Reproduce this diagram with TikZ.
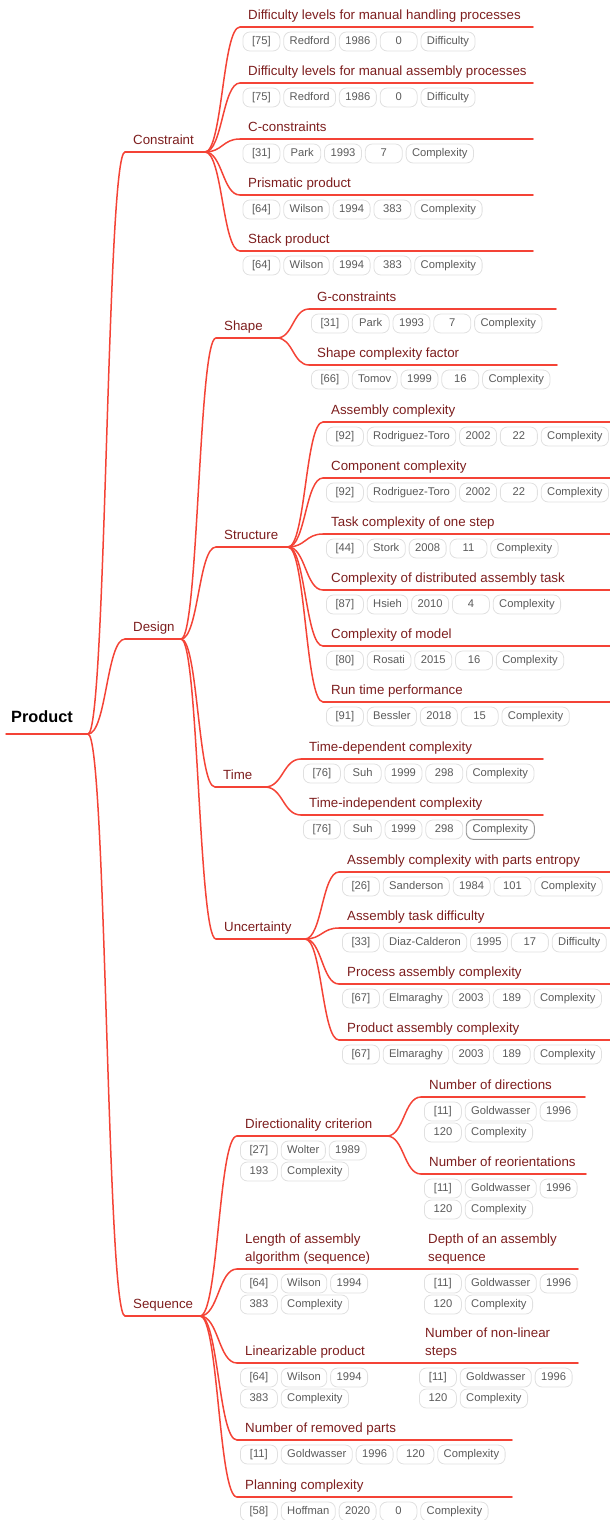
\documentclass[tikz,border=0pt]{standalone}
\usepackage{fontspec}
\setmainfont{Liberation Sans}
\usetikzlibrary{positioning,calc}

\definecolor{linkred}{RGB}{244,67,54}
\definecolor{topicred}{RGB}{125,30,30}
\definecolor{pillline}{RGB}{224,224,224}
\definecolor{pillhover}{RGB}{150,150,150}
\definecolor{pilltext}{RGB}{90,90,90}

\newcommand\rootfont{\fontsize{16.3}{20}\selectfont\bfseries}
\newcommand\topicfont{\fontsize{13.3}{18}\selectfont}
\newcommand\pillfont{\fontsize{11.2}{13}\selectfont}

% underline and label of a topic
\newcommand\topic[5]{%
  \coordinate (#1-s) at (#2,#4);
  \coordinate (#1-e) at (#3,#4);
  \draw[branch] (#1-s) -- (#1-e);
  \node[topic] (#1) at ({#2+8},{#4-7.7}) {#5};
}
% one row of reference pills
\newcommand\pills[4]{%
  \foreach \pl [count=\i] in {#4}{%
    \ifnum\i=1
      \node[pill,anchor=west] (#1-1) at (#2,#3) {\pl};
    \else
      \pgfmathtruncatemacro\j{\i-1}
      \node[pill,right=3pt of #1-\j] (#1-\i) {\pl};
    \fi
  }%
}
% curved connector between two topics
\newcommand\mmlink[2]{%
  \draw[branch] let \p1=(#1), \p2=(#2) in
    (\p1) .. controls ({(\x1+\x2)/2},\y1) and ({(\x1+\x2)/2},\y2) .. (\p2);
}
\newcommand\twolines[2]{\begin{tabular}[b]{@{}l@{}}#1\\#2\end{tabular}}

\begin{document}
\begin{tikzpicture}[x=1pt,y=-1pt,line cap=round]
    \tikzstyle{branch}=[draw=linkred,line width=1.5pt]
    \tikzstyle{topic}=[anchor=base west,inner sep=0,text=topicred,font=\topicfont]
    \tikzstyle{root}=[anchor=base west,inner sep=0,font=\rootfont]
    \tikzstyle{pill}=[draw=pillline,line width=0.8pt,rounded corners=7pt,minimum width=37pt,minimum height=19pt,
        inner xsep=6pt,inner ysep=0pt,text height=8pt,text depth=2.3pt,text=pilltext,font=\pillfont]
    \useasboundingbox (0,0) rectangle (610,1520);

    % root
    \coordinate (pr-s) at (6,734);
    \coordinate (pr-e) at (88,734);
    \draw[branch] (pr-s) -- (pr-e);
    \node[root] (pr) at (11,722) {Product};

    \topic{con}{125}{205}{152}{Constraint}
    \topic{des}{125}{181}{639}{Design}
    \topic{seq}{125}{200}{1316}{Sequence}
    \foreach \nm in {con,des,seq} {\mmlink{pr-e}{\nm-s}}

    % constraint
    \topic{c1}{240}{533}{27}{Difficulty levels for manual handling processes}
    \pills{c1r}{242.5}{41.5}{[75],Redford,1986,0,Difficulty}
    \topic{c2}{240}{533}{83}{Difficulty levels for manual assembly processes}
    \pills{c2r}{242.5}{97.5}{[75],Redford,1986,0,Difficulty}
    \topic{c3}{240}{533}{139}{C-constraints}
    \pills{c3r}{242.5}{153.5}{[31],Park,1993,7,Complexity}
    \topic{c4}{240}{533}{195}{Prismatic product}
    \pills{c4r}{242.5}{209.5}{[64],Wilson,1994,383,Complexity}
    \topic{c5}{240}{533}{251}{Stack product}
    \pills{c5r}{242.5}{265.5}{[64],Wilson,1994,383,Complexity}
    \foreach \k in {1,...,5} {\mmlink{con-e}{c\k-s}}

    % design
    \topic{shp}{216}{277}{338}{Shape}
    \topic{str}{216}{288}{547}{Structure}
    \topic{tim}{215}{265}{787}{Time}
    \topic{unc}{216}{305}{939}{Uncertainty}
    \foreach \nm in {shp,str,tim,unc} {\mmlink{des-e}{\nm-s}}

    \topic{g1}{309}{556}{309}{G-constraints}
    \pills{g1r}{311}{323.5}{[31],Park,1993,7,Complexity}
    \topic{g2}{309}{557}{365}{Shape complexity factor}
    \pills{g2r}{311}{379.5}{[66],Tomov,1999,16,Complexity}
    \mmlink{shp-e}{g1-s}
    \mmlink{shp-e}{g2-s}

    \topic{s1}{323}{612}{422}{Assembly complexity}
    \pills{s1r}{326}{436.5}{[92],Rodriguez-Toro,2002,22,Complexity}
    \topic{s2}{323}{612}{478}{Component complexity}
    \pills{s2r}{326}{492.5}{[92],Rodriguez-Toro,2002,22,Complexity}
    \topic{s3}{323}{612}{534}{Task complexity of one step}
    \pills{s3r}{326}{548.5}{[44],Stork,2008,11,Complexity}
    \topic{s4}{323}{612}{590}{Complexity of distributed assembly task}
    \pills{s4r}{326}{604.5}{[87],Hsieh,2010,4,Complexity}
    \topic{s5}{323}{612}{646}{Complexity of model}
    \pills{s5r}{326}{660.5}{[80],Rosati,2015,16,Complexity}
    \topic{s6}{323}{612}{702}{Run time performance}
    \pills{s6r}{326}{716.5}{[91],Bessler,2018,15,Complexity}
    \foreach \k in {1,...,6} {\mmlink{str-e}{s\k-s}}

    \topic{t1}{301}{543}{759}{Time-dependent complexity}
    \pills{t1r}{303}{773.5}{[76],Suh,1999,298,Complexity}
    \topic{t2}{301}{543}{815}{Time-independent complexity}
    \pills{t2r}{303}{829.5}{[76],Suh,1999,298,Complexity}
    \draw[draw=pillhover,line width=0.8pt,rounded corners=7pt] (t2r-5.south west) rectangle (t2r-5.north east);
    \mmlink{tim-e}{t1-s}
    \mmlink{tim-e}{t2-s}

    \topic{u1}{339}{612}{872}{Assembly complexity with parts entropy}
    \pills{u1r}{342}{886.5}{[26],Sanderson,1984,101,Complexity}
    \topic{u2}{339}{612}{928}{Assembly task difficulty}
    \pills{u2r}{342}{942.5}{[33],Diaz-Calderon,1995,17,Difficulty}
    \topic{u3}{339}{612}{984}{Process assembly complexity}
    \pills{u3r}{342}{998.5}{[67],Elmaraghy,2003,189,Complexity}
    \topic{u4}{339}{612}{1040}{Product assembly complexity}
    \pills{u4r}{342}{1054.5}{[67],Elmaraghy,2003,189,Complexity}
    \foreach \k in {1,...,4} {\mmlink{unc-e}{u\k-s}}

    % sequence
    \topic{dir}{237}{387}{1136}{Directionality criterion}
    \pills{dirr}{240}{1150.5}{[27],Wolter,1989}
    \pills{dirq}{240}{1171.5}{193,Complexity}
    \topic{len}{237}{414}{1269}{\twolines{Length of assembly}{algorithm (sequence)}}
    \pills{lenr}{240}{1283.5}{[64],Wilson,1994}
    \pills{lenq}{240}{1304.5}{383,Complexity}
    \topic{lin}{237}{413}{1363}{Linearizable product}
    \pills{linr}{240}{1377.5}{[64],Wilson,1994}
    \pills{linq}{240}{1398.5}{383,Complexity}
    \topic{rem}{237}{512}{1440}{Number of removed parts}
    \pills{remr}{240}{1454.5}{[11],Goldwasser,1996,120,Complexity}
    \topic{pla}{237}{512}{1497}{Planning complexity}
    \pills{plar}{240}{1511.5}{[58],Hoffman,2020,0,Complexity}
    \foreach \nm in {dir,len,lin,rem,pla} {\mmlink{seq-e}{\nm-s}}

    \topic{da}{421}{585}{1097}{Number of directions}
    \pills{dar}{424}{1111.5}{[11],Goldwasser,1996}
    \pills{daq}{424}{1132.5}{120,Complexity}
    \topic{db}{421}{586}{1174}{Number of reorientations}
    \pills{dbr}{424}{1188.5}{[11],Goldwasser,1996}
    \pills{dbq}{424}{1209.5}{120,Complexity}
    \mmlink{dir-e}{da-s}
    \mmlink{dir-e}{db-s}

    \topic{dep}{420}{578}{1269}{\twolines{Depth of an assembly}{sequence}}
    \pills{depr}{424}{1283.5}{[11],Goldwasser,1996}
    \pills{depq}{424}{1304.5}{120,Complexity}
    \mmlink{len-e}{dep-s}

    \topic{nl}{417}{578}{1363}{\twolines{Number of non-linear}{steps}}
    \pills{nlr}{419}{1377.5}{[11],Goldwasser,1996}
    \pills{nlq}{419}{1398.5}{120,Complexity}
    \mmlink{lin-e}{nl-s}
\end{tikzpicture}
\end{document}
